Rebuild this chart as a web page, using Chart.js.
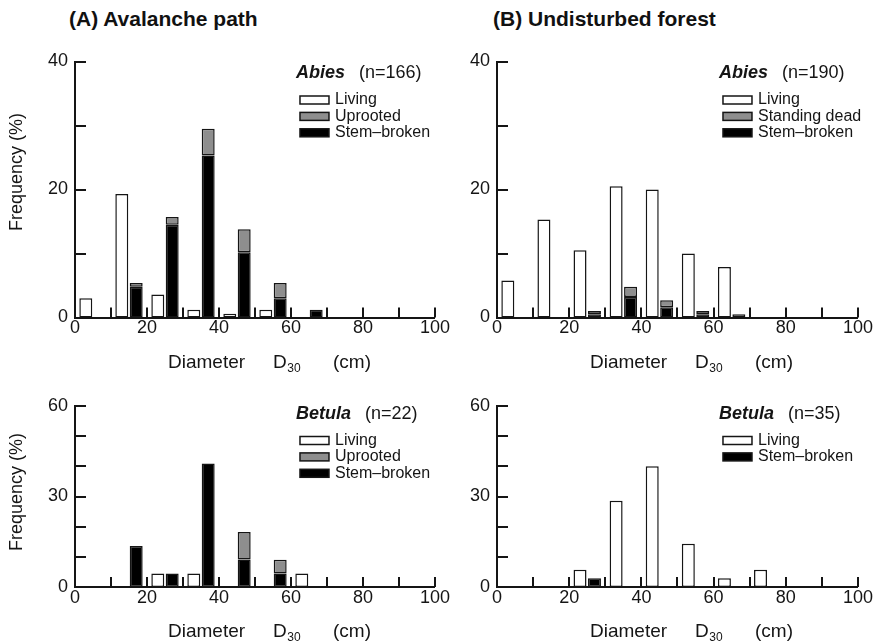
<!DOCTYPE html>
<html>
<head>
<meta charset="utf-8">
<script src="https://cdn.jsdelivr.net/npm/chart.js@4.4.0/dist/chart.umd.min.js"></script>
<style>
  body { margin: 0; width: 874px; height: 643px; position: relative; overflow: hidden; background: #fff; font-family: 'Liberation Sans', Arial, sans-serif; }
  .panel-title { position: absolute; top: 7px; font-weight: bold; font-size: 21px; color: #111; }
  canvas { position: absolute; }
</style>
</head>
<body>
<div class="panel-title" style="left:69px">(A) Avalanche path</div>
<div class="panel-title" style="left:493px">(B) Undisturbed forest</div>
<canvas id="avalAbies" width="452" height="380" style="left:0;top:0"></canvas>
<canvas id="forAbies" width="453" height="380" style="left:422px;top:0"></canvas>
<canvas id="avalBetula" width="452" height="263" style="left:0;top:380px"></canvas>
<canvas id="forBetula" width="453" height="263" style="left:422px;top:380px"></canvas>
<script>
// 10 cm diameter classes (D30)
const classLabels = ['0-10', '10-20', '20-30', '30-40', '40-50', '50-60', '60-70', '70-80', '80-90', '90-100'];
const xTickLabels = [0, 20, 40, 60, 80, 100];
const yTickLabelsAbies = [0, 20, 40];
const yTickLabelsBetula = [0, 30, 60];

// frequency (%) per class
const avalAbiesLiving = [3.0, 19.3, 3.6, 1.2, 0.6, 1.2, 0, 0, 0, 0];
const avalAbiesStem = [0, 4.8, 14.5, 25.3, 10.2, 3.0, 1.2, 0, 0, 0];
const avalAbiesUprooted = [0, 0.6, 1.2, 4.2, 3.6, 2.4, 0, 0, 0, 0];

const forAbiesLiving = [5.8, 15.3, 10.5, 20.5, 20.0, 10.0, 7.9, 0, 0, 0];
const forAbiesStem = [0, 0, 0.5, 3.2, 1.6, 0.5, 0, 0, 0, 0];
const forAbiesStanding = [0, 0, 0.5, 1.6, 1.1, 0.5, 0.5, 0, 0, 0];

const avalBetulaLiving = [0, 0, 4.5, 4.5, 0, 0, 4.5, 0, 0, 0];
const avalBetulaStem = [0, 13.6, 4.5, 40.9, 9.1, 4.5, 0, 0, 0, 0];
const avalBetulaUprooted = [0, 0, 0, 0, 9.1, 4.5, 0, 0, 0, 0];

const forBetulaLiving = [0, 0, 5.7, 28.6, 40.0, 14.3, 2.9, 5.7, 0, 0];
const forBetulaStem = [0, 0, 2.9, 0, 0, 0, 0, 0, 0, 0];

const INK = '#151515';
const FONT = "'Liberation Sans', Arial, sans-serif";

function living(data) {
  return { label: 'Living', data, stack: 'live', backgroundColor: '#fff' };
}
function stemBroken(data) {
  return { label: 'Stem\u2013broken', data, stack: 'dead', backgroundColor: '#000' };
}
function grey(label, data) {
  return { label, data, stack: 'dead', backgroundColor: '#8e8e8e' };
}

// ticks pointing into the plot, like the original figure
const innerTicks = {
  id: 'innerTicks',
  afterDatasetsDraw(chart) {
    const { ctx, chartArea: a, scales: { x, y } } = chart;
    ctx.save();
    ctx.strokeStyle = INK;
    ctx.lineWidth = 2;
    ctx.beginPath();
    y.ticks.forEach(t => {
      const py = Math.round(y.getPixelForValue(t.value));
      ctx.moveTo(a.left, py);
      ctx.lineTo(a.left + 11, py);
    });
    x.ticks.forEach(t => {
      if (t.value === 0) return;
      const px = Math.round(x.getPixelForValue(t.value));
      ctx.moveTo(px, a.bottom);
      ctx.lineTo(px, a.bottom - 10);
    });
    ctx.stroke();
    ctx.restore();
  }
};

// species heading, legend boxes and axis titles
const panelDecor = {
  id: 'panelDecor',
  afterDraw(chart, args, opts) {
    const { ctx, chartArea: a } = chart;
    ctx.save();
    ctx.fillStyle = INK;
    ctx.textBaseline = 'middle';

    // species + sample size
    const sx = a.right - 139;
    const sy = a.top + opts.headY;
    ctx.font = 'italic bold 18px ' + FONT;
    ctx.textAlign = 'left';
    ctx.fillText(opts.species, sx, sy);
    const w = ctx.measureText(opts.species).width;
    ctx.font = '18px ' + FONT;
    ctx.fillText('(n=' + opts.n + ')', sx + w + 14, sy);

    // legend rows in the listed order
    opts.legend.forEach((name, i) => {
      const ds = chart.data.datasets.find(d => d.label === name);
      const ry = a.top + opts.headY + 26.5 + i * 16.4;
      ctx.fillStyle = ds.backgroundColor;
      ctx.fillRect(a.right - 135, ry - 4, 29, 8);
      ctx.strokeStyle = INK;
      ctx.lineWidth = 1.5;
      ctx.strokeRect(a.right - 135, ry - 4, 29, 8);
      ctx.fillStyle = INK;
      ctx.font = '16px ' + FONT;
      ctx.fillText(name, a.right - 100, ry);
    });

    // x title with subscript
    const tx = a.left + 93;
    const ty = a.bottom + 45;
    ctx.font = '19px ' + FONT;
    ctx.fillText('Diameter', tx, ty);
    ctx.fillText('D', a.left + 198, ty);
    const dw = ctx.measureText('D').width;
    ctx.font = '12px ' + FONT;
    ctx.fillText('30', a.left + 198 + dw + 0.5, ty + 6);
    ctx.font = '19px ' + FONT;
    ctx.fillText('(cm)', a.left + 258, ty);

    // y title, only on the left column
    if (opts.yTitleY) {
      ctx.font = '18px ' + FONT;
      ctx.translate(17.5, opts.yTitleY);
      ctx.rotate(-Math.PI / 2);
      ctx.textAlign = 'center';
      ctx.fillText('Frequency (%)', 0, 0);
    }
    ctx.restore();
  }
};

function makePanel(id, datasets, yMax, yLabels, padTop, xHeight, decor) {
  datasets.forEach(ds => {
    ds.xAxisID = 'cls';
    ds.borderColor = INK;
    ds.borderWidth = 1.5;
    ds.borderSkipped = false;
    ds.categoryPercentage = 0.8;
    ds.barPercentage = 0.9;
  });
  return new Chart(document.getElementById(id), {
    type: 'bar',
    data: { labels: classLabels, datasets },
    plugins: [innerTicks, panelDecor],
    options: {
      responsive: false,
      animation: false,
      layout: { padding: { top: padTop, right: 16, bottom: 0, left: 0 } },
      plugins: { legend: { display: false }, tooltip: { enabled: false }, panelDecor: decor },
      scales: {
        cls: { type: 'category', display: false, offset: true, position: 'bottom' },
        x: {
          type: 'linear', position: 'bottom', min: 0, max: 100, offset: false,
          grid: { display: false, drawTicks: false, offset: false },
          border: { color: INK, width: 2 },
          ticks: {
            stepSize: 10, padding: 2, color: INK,
            font: { family: FONT, size: 18, lineHeight: 1 },
            maxRotation: 0, autoSkip: false,
            callback: v => xTickLabels.includes(v) ? v : ''
          },
          afterFit: s => { s.height = xHeight; }
        },
        y: {
          stacked: true, min: 0, max: yMax,
          grid: { display: false, drawTicks: false },
          border: { color: INK, width: 2 },
          ticks: {
            stepSize: 10, padding: 7, color: INK,
            font: { family: FONT, size: 18, lineHeight: 1 },
            callback: v => yLabels.includes(v) ? v : ''
          },
          afterFit: s => { s.width = 75; }
        }
      }
    }
  });
}

makePanel('avalAbies',
  [living(avalAbiesLiving), stemBroken(avalAbiesStem), grey('Uprooted', avalAbiesUprooted)],
  40, yTickLabelsAbies, 61.5, 62.5,
  { species: 'Abies', n: 166, headY: 12, legend: ['Living', 'Uprooted', 'Stem\u2013broken'], yTitleY: 172 });

makePanel('forAbies',
  [living(forAbiesLiving), stemBroken(forAbiesStem), grey('Standing dead', forAbiesStanding)],
  40, yTickLabelsAbies, 61.5, 62.5,
  { species: 'Abies', n: 190, headY: 12, legend: ['Living', 'Standing dead', 'Stem\u2013broken'] });

makePanel('avalBetula',
  [living(avalBetulaLiving), stemBroken(avalBetulaStem), grey('Uprooted', avalBetulaUprooted)],
  60, yTickLabelsBetula, 26, 56,
  { species: 'Betula', n: 22, headY: 8, legend: ['Living', 'Uprooted', 'Stem\u2013broken'], yTitleY: 112 });

makePanel('forBetula',
  [living(forBetulaLiving), stemBroken(forBetulaStem)],
  60, yTickLabelsBetula, 26, 56,
  { species: 'Betula', n: 35, headY: 8, legend: ['Living', 'Stem\u2013broken'] });
</script>
</body>
</html>
